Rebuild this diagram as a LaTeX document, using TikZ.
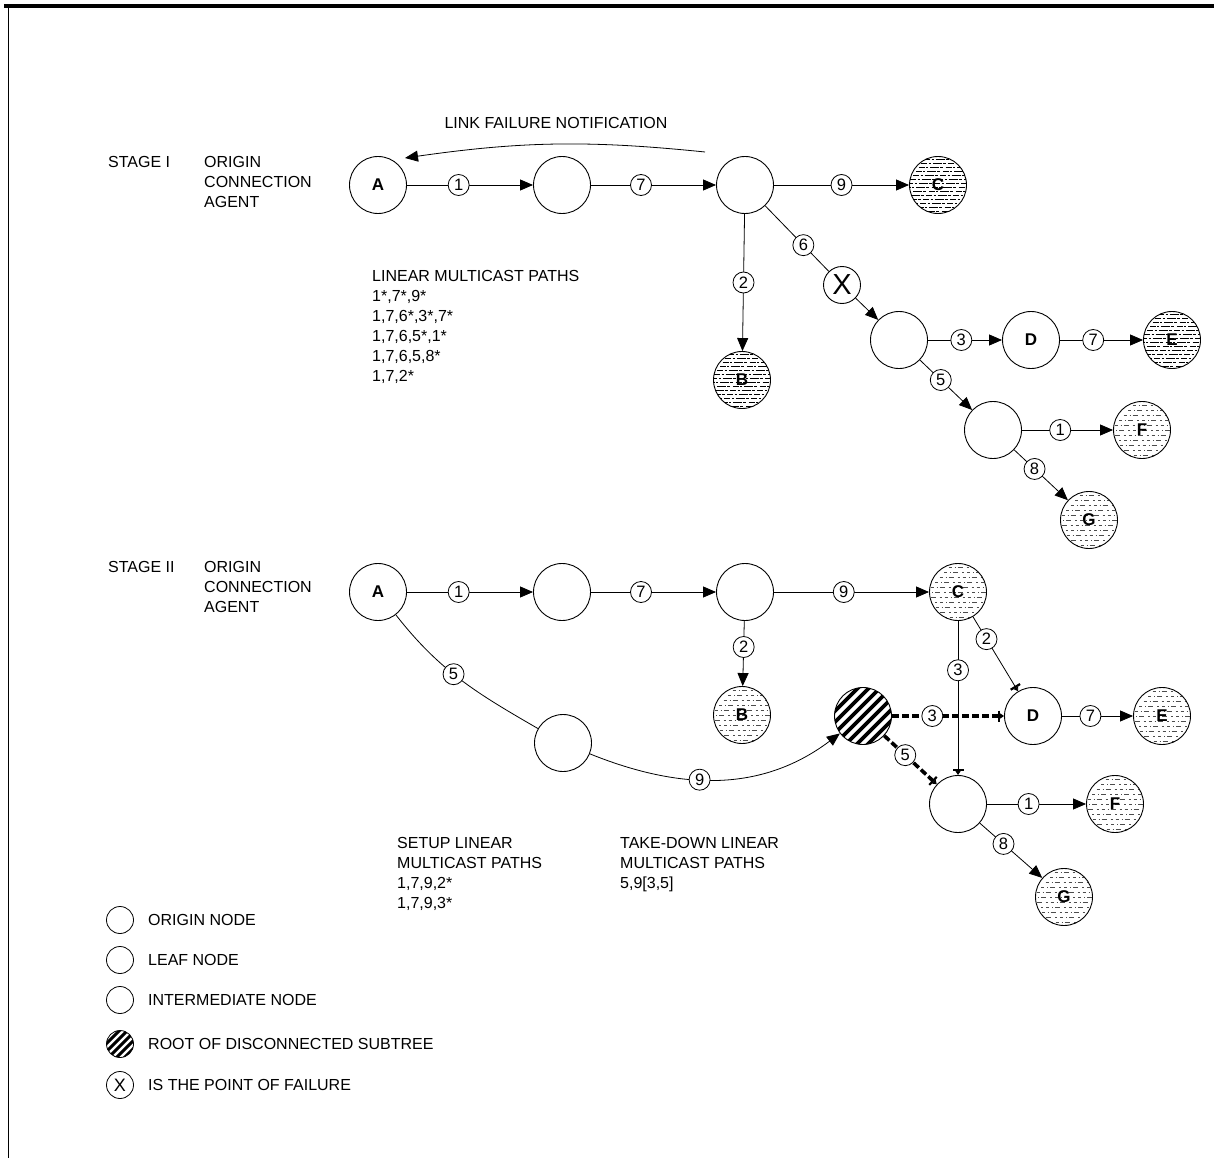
\documentclass[tikz,border=0pt]{standalone}
\usepackage{fontspec}
\setmainfont{Liberation Sans}
\usetikzlibrary{arrows.meta}
\tikzset{
  txt/.style={font=\fontsize{16}{20}\selectfont, align=left, inner sep=0pt, anchor=north west},
  nd/.style={circle, draw, solid, line width=0.9pt, minimum size=57pt, inner sep=0pt, font=\fontsize{17}{17}\selectfont\bfseries},
  leafdense/.style={nd, path picture={
      \foreach \yy in {-26,-22,...,26}
        \draw[line width=0.8pt, dash pattern=on 6pt off 1.5pt on 2pt off 2pt on 9pt off 1pt on 3pt off 2.5pt]
          ([shift={(-32pt+\yy*0.7pt,\yy pt)}]path picture bounding box.center) -- ++(70pt,0);}},
  leaflight/.style={nd, path picture={
      \foreach \yy in {-25,-20,...,25}
        \draw[line width=0.6pt, black!70, dash pattern=on 3pt off 3pt on 1pt off 2pt on 5pt off 4pt on 2pt off 3pt]
          ([shift={(-32pt+\yy*0.9pt,\yy pt)}]path picture bounding box.center) -- ++(70pt,0);}},
  hatch/.style={nd, path picture={
      \foreach \dd in {-66,-55,...,66}
        \draw[solid, line width=3.6pt]
          ([shift={(\dd pt-32pt,-32pt)}]path picture bounding box.center) -- ++(64pt,64pt);}},
  lbl/.style={circle, draw, solid, fill=white, line width=0.8pt, minimum size=21pt, inner sep=0pt, font=\fontsize{16.5}{16.5}\selectfont},
  xnd/.style={circle, draw, fill=white, line width=0.9pt, minimum size=37pt, inner sep=0pt, font=\fontsize{29}{29}\selectfont},
  edge/.style={line width=0.8pt},
  arr/.style={edge, -{Triangle[length=13pt,width=11pt]}},
  bararr/.style={-{Bar[width=11pt,line width=2.2pt] Triangle[length=4pt,width=5pt]}},
  thickdash/.style={line width=3.6pt, dash pattern=on 7pt off 3pt},
  legc/.style={circle, draw, line width=0.8pt, minimum size=27pt, inner sep=0pt},
  leghatch/.style={legc, path picture={
      \foreach \dd in {-30,-22,...,30}
        \draw[line width=3pt]
          ([shift={(\dd pt-16pt,-16pt)}]path picture bounding box.center) -- ++(32pt,32pt);}},
}
\begin{document}
\begin{tikzpicture}[x=1pt,y=1pt]
\useasboundingbox (0,0) rectangle (1214,-1158);
% frame
\draw[line width=3.5pt] (4,-6) -- (1214,-6);
\draw[line width=1pt] (8,-6) -- (8,-1158);

% ---------------- STAGE I ----------------
\node[txt] (s1) at (108,-156) {STAGE I};
\node[txt] (oca1) at (204,-156) {ORIGIN\\CONNECTION\\AGENT};
\node[font=\fontsize{16}{20}\selectfont, inner sep=0pt] (lfn) at (556,-123) {LINK FAILURE NOTIFICATION};

\node[nd] (A1) at (378,-185) {A};
\node[nd] (P1) at (562,-185) {};
\node[nd] (Q1) at (745,-185) {};
\node[leafdense] (C1) at (938,-185) {C};
\node[leafdense] (B1) at (742,-380) {B};
\node[xnd] (X1) at (842,-285) {X};
\node[nd] (R1) at (899,-340) {};
\node[nd] (D1) at (1031,-340) {D};
\node[leafdense] (E1) at (1172,-340) {E};
\node[nd] (S1) at (993,-430) {};
\node[leaflight] (F1) at (1142,-430) {F};
\node[leaflight] (G1) at (1089,-520) {G};

\coordinate (lfnstart) at (705,-152);
\coordinate (lfnend) at (405,-158);
\draw[arr] (lfnstart) to[bend right=7] (lfnend);

\draw[arr] (A1) -- node[lbl, pos=0.41] {1} (P1);
\draw[arr] (P1) -- node[lbl, pos=0.4] {7} (Q1);
\draw[arr] (Q1) -- node[lbl, pos=0.5] {9} (C1);
\draw[arr] (Q1) -- node[lbl, pos=0.5] {2} (B1);
\draw[edge] (Q1) -- node[lbl, pos=0.6] {6} (X1);
\draw[arr] (X1) -- (R1);
\draw[arr] (R1) -- node[lbl, pos=0.45] {3} (D1);
\draw[arr] (D1) -- node[lbl, pos=0.4] {7} (E1);
\draw[arr] (R1) -- node[lbl, pos=0.4] {5} (S1);
\draw[arr] (S1) -- node[lbl, pos=0.42] {1} (F1);
\draw[arr] (S1) -- node[lbl, pos=0.38] {8} (G1);

\node[txt] (lmp) at (372,-270) {LINEAR MULTICAST PATHS\\1*,7*,9*\\1,7,6*,3*,7*\\1,7,6,5*,1*\\1,7,6,5,8*\\1,7,2*};

% ---------------- STAGE II ----------------
\node[txt] (s2) at (108,-561) {STAGE II};
\node[txt] (oca2) at (204,-561) {ORIGIN\\CONNECTION\\AGENT};

\node[nd] (A2) at (378,-592) {A};
\node[nd] (P2) at (562,-592) {};
\node[nd] (Q2) at (745,-592) {};
\node[leaflight] (C2) at (958,-592) {C};
\node[leaflight] (B2) at (742,-715) {B};
\node[hatch] (R2) at (863,-716) {};
\node[nd] (D2) at (1033,-716) {D};
\node[leaflight] (E2) at (1162,-716) {E};
\node[nd] (S2) at (958,-804) {};
\node[leaflight] (F2) at (1115,-804) {F};
\node[leaflight] (G2) at (1064,-897) {G};
\node[nd] (T2) at (563,-743) {};

\draw[arr] (A2) -- node[lbl, pos=0.41] {1} (P2);
\draw[arr] (P2) -- node[lbl, pos=0.4] {7} (Q2);
\draw[arr] (Q2) -- node[lbl, pos=0.45] {9} (C2);
\draw[arr] (Q2) -- node[lbl, pos=0.4] {2} (B2);
\draw[edge] (A2) to[out=-52,in=150] node[lbl, pos=0.45] {5} (T2);
\draw[arr] (T2) to[out=-22,in=-143] node[lbl, pos=0.42] {9} (R2);
\draw[edge, bararr] (C2) -- node[lbl, pos=0.3] {2} (D2);
\draw[edge, bararr] (C2) -- node[lbl, pos=0.32] {3} (S2);
\draw[thickdash, bararr] (R2) -- node[lbl, pos=0.36] {3} (D2);
\draw[thickdash, bararr] (R2) -- node[lbl, pos=0.4] {5} (S2);
\draw[arr] (D2) -- node[lbl, pos=0.4] {7} (E2);
\draw[arr] (S2) -- node[lbl, pos=0.42] {1} (F2);
\draw[arr] (S2) -- node[lbl, pos=0.38] {8} (G2);

\node[txt] (setup) at (397,-837) {SETUP LINEAR\\MULTICAST PATHS\\1,7,9,2*\\1,7,9,3*};
\node[txt] (takedown) at (620,-837) {TAKE-DOWN LINEAR\\MULTICAST PATHS\\5,9[3,5]};

% ---------------- LEGEND ----------------
\node[legc] (L1) at (120,-920) {};
\node[legc] (L2) at (120,-960) {};
\node[legc] (L3) at (120,-1000) {};
\node[leghatch] (L4) at (120,-1044) {};
\node[legc, font=\fontsize{18}{18}\selectfont] (L5) at (120,-1085) {X};
\node[txt, anchor=west] (T1) at (148,-920) {ORIGIN NODE};
\node[txt, anchor=west] (T2l) at (148,-960) {LEAF NODE};
\node[txt, anchor=west] (T3) at (148,-1000) {INTERMEDIATE NODE};
\node[txt, anchor=west] (T4) at (148,-1044) {ROOT OF DISCONNECTED SUBTREE};
\node[txt, anchor=west] (T5) at (148,-1085) {IS THE POINT OF FAILURE};
\end{tikzpicture}
\end{document}
